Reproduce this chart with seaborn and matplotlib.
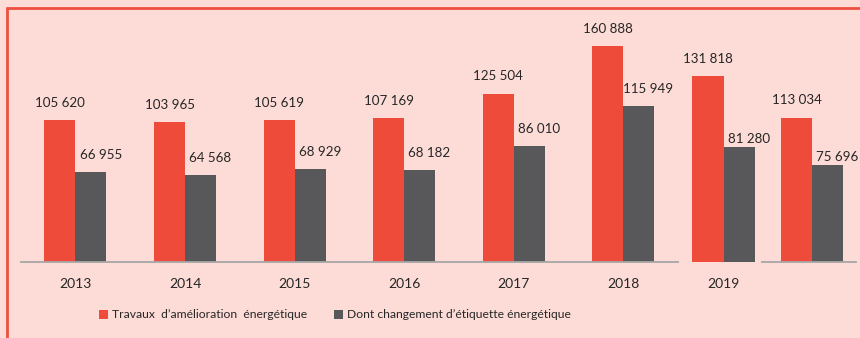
import matplotlib
matplotlib.use("Agg")
import matplotlib.pyplot as plt
from matplotlib.lines import Line2D
import pandas as pd
import seaborn as sns

# Nombre de logements : travaux d'amélioration et changements d'étiquette
years = ["2013", "2014", "2015", "2016", "2017", "2018", "2019", ""]
travaux = [105620, 103965, 105619, 107169, 125504, 160888, 131818, 113034]
etiquette = [66955, 64568, 68929, 68182, 86010, 115949, 81280, 75696]
series = ["Travaux  d\u2019amélioration  énergétique",
          "Dont changement d\u2019étiquette énergétique"]

BG = "#fddcd7"
RED = "#ef4b3a"
GREY = "#58585a"
AXIS = "#a6a6a6"
INK = "#262626"
FRAME = "#ee5040"

W, H = 860, 338

sns.set_theme(style="white")
plt.rcParams["font.family"] = ["Lato", "DejaVu Sans"]
plt.rcParams["text.color"] = INK

df = pd.DataFrame({
    "annee": years * 2,
    "serie": [series[0]] * len(years) + [series[1]] * len(years),
    "valeur": travaux + etiquette,
})

fig = plt.figure(figsize=(W / 100, H / 100), dpi=100, facecolor=BG)


def box(x0, x1, y0=12, y1=261.5):
    ax = fig.add_axes([x0 / W, (H - y1) / H, (x1 - x0) / W, (y1 - y0) / H])
    ax.set_facecolor("none")
    return ax


def fmt(v):
    return f"{int(round(v)):,}".replace(",", " ")


def panel(ax, cats, bar_w, ymax, grey_pad, legend=False):
    sub = df[df["annee"].isin(cats)]
    sns.barplot(data=sub, x="annee", y="valeur", hue="serie",
                order=cats, hue_order=series, palette=[RED, GREY],
                saturation=1, width=bar_w, linewidth=0, ax=ax,
                legend=legend)
    ax.set_ylim(0, ymax)
    ax.set_yticks([])
    ax.set_xlabel("")
    ax.set_ylabel("")
    for side in ("left", "right", "top"):
        ax.spines[side].set_visible(False)
    ax.spines["bottom"].set_color(AXIS)
    ax.spines["bottom"].set_linewidth(1.3)
    ax.tick_params(axis="x", which="major", length=0, pad=12,
                   labelsize=10, labelcolor=INK)
    ax.tick_params(axis="x", which="minor", length=4, width=1.3,
                   color=AXIS, direction="out")
    for ci, cont in enumerate(ax.containers):
        dy = 12.5 if ci == 0 else grey_pad
        dx = 0 if ci == 0 else 7
        for bar in cont:
            h = bar.get_height()
            ax.annotate(fmt(h), (bar.get_x() + bar.get_width() / 2, h),
                        xytext=(dx, dy), textcoords="offset points",
                        ha="center", va="center", fontsize=9.6, color=INK)


# 2013 - 2018
axA = box(20.7, 678)
panel(axA, years[:6], 0.566, 186600, 12.5, legend=True)
axA.set_xlim(-0.5, 5.5)
axA.set_xticks([i - 0.5 for i in range(7)], minor=True)
handles, labels = axA.get_legend_handles_labels()
axA.get_legend().remove()

# 2019
axB = box(668.7, 778.3)
panel(axB, years[6:7], 0.566, 177600, 6)
axB.set_xlim(-0.5, 0.5)
axB.spines["bottom"].set_visible(False)

# dernier groupe
axC = box(762, 856)
panel(axC, years[7:8], 62 / 88, 196000, 6)
axC.set_xlim(-0.5 - 6 / 88, 0.5)
axC.set_xticks([-0.5, 0.5], minor=True)
axC.set_xticklabels([""])

fig.legend(handles, labels, ncol=2, loc="center left",
           bbox_to_anchor=(88 / W, 1 - 315 / H), frameon=False,
           handlelength=0.75, handleheight=0.75, handletextpad=0.35,
           columnspacing=2.2, fontsize=8.7, labelcolor=INK)

# cadre
fig.add_artist(Line2D([7 / W, 7 / W], [0, (H - 8) / H], color=FRAME,
                      lw=2, transform=fig.transFigure))
fig.add_artist(Line2D([7 / W, 1], [(H - 8) / H, (H - 8) / H], color=FRAME,
                      lw=2, transform=fig.transFigure))

fig.savefig("out.png", dpi=100, facecolor=BG)
